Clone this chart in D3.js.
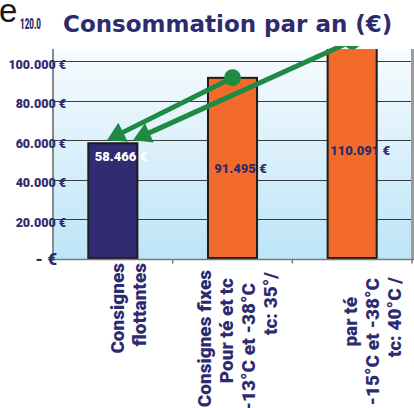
<!DOCTYPE html>
<html>
<head>
<meta charset="utf-8">
<script src="https://cdn.jsdelivr.net/npm/d3@7"></script>
<style>
  body { margin: 0; background: #fff; }
  svg { display: block; }
</style>
</head>
<body>
<svg id="chart" width="414" height="408"></svg>
<script>
// data
var categories = [
  ["Consignes", "flottantes"],
  ["Consignes fixes", "Pour té et tc", "-13°C et -38°C", "tc: 35°/"],
  ["par té", "-15°C et -38°C", "tc: 40°C /"]
];
var values = [58466, 91495, 110091];
var yTicks = [0, 20000, 40000, 60000, 80000, 100000];
var title = "Consommation par an (€)";
var arrows = [{ from: 1, to: 0 }, { from: 2, to: 0 }];

// layout of the rotated category labels (first baseline shift, top of each line)
var labelShift = [11, -21.5, 5];
var labelTop = [[263, 263], [270, 278, 283, 272], [297, 278, 277]];

var navy = "#2d2b6f";
var orange = "#f26b2a";
var green = "#1f8a43";
var boldFont = "Roboto, 'Liberation Sans', Arial, sans-serif";

var svg = d3.select("#chart");

var plot = { left: 53, right: 412, top: 49, bottom: 259 };

var x = d3.scaleBand()
    .domain(d3.range(values.length))
    .range([plot.left, plot.right])
    .paddingInner(0.59)
    .paddingOuter(0.295);

var y = d3.scaleLinear()
    .domain([0, 120000])
    .range([plot.bottom, plot.bottom - 120000 * 0.00198]);

var fr = d3.formatLocale({ decimal: ",", thousands: ".", grouping: [3], currency: ["", "€"] });
var fmt = fr.format(",.0f");

var defs = svg.append("defs");
var grad = defs.append("linearGradient")
    .attr("id", "bg").attr("x1", 0).attr("y1", 0).attr("x2", 0).attr("y2", 1);
grad.append("stop").attr("offset", "0%").attr("stop-color", "#f6fbfe");
grad.append("stop").attr("offset", "100%").attr("stop-color", "#bde5f7");

defs.append("clipPath").attr("id", "plotclip")
  .append("rect")
    .attr("x", plot.left).attr("y", plot.top)
    .attr("width", plot.right - plot.left).attr("height", plot.bottom - plot.top + 2);

svg.append("rect")
    .attr("x", plot.left).attr("y", plot.top)
    .attr("width", plot.right - plot.left).attr("height", plot.bottom - plot.top)
    .attr("fill", "url(#bg)");

// gridlines
svg.append("g")
  .selectAll("line")
  .data(yTicks.filter(d => d > 0))
  .enter().append("line")
    .attr("x1", plot.left).attr("x2", plot.right)
    .attr("y1", d => Math.round(y(d)) + 0.5)
    .attr("y2", d => Math.round(y(d)) + 0.5)
    .attr("stroke", "#3c3c3c")
    .attr("stroke-width", 1);

// right frame strip
svg.append("rect")
    .attr("x", plot.right - 1).attr("y", plot.top)
    .attr("width", 3).attr("height", plot.bottom - plot.top)
    .attr("fill", "#9c9c9c");

// bars
svg.append("g")
    .attr("clip-path", "url(#plotclip)")
  .selectAll("rect")
  .data(values)
  .enter().append("rect")
    .attr("x", (d, i) => x(i))
    .attr("y", d => y(d))
    .attr("width", x.bandwidth())
    .attr("height", d => plot.bottom - 1 - y(d))
    .attr("fill", (d, i) => i === 0 ? "#302b72" : orange)
    .attr("stroke", "#1c1c1c")
    .attr("stroke-width", 2);

// value labels
svg.append("g")
  .selectAll("text")
  .data(values)
  .enter().append("text")
    .attr("x", (d, i) => x(i) + x.bandwidth() / 2 + 8)
    .attr("y", (d, i) => i === 0 ? y(d) + 18 : (y(d) + plot.bottom) / 2 + 4.5)
    .attr("text-anchor", "middle")
    .style("font-family", boldFont)
    .style("font-weight", 900)
    .style("font-size", "13px")
    .attr("fill", (d, i) => i === 0 ? "#ffffff" : navy)
    .text(d => fmt(d) + " €");

// green arrows
var ag = svg.append("g");
arrows.forEach(function (a, k) {
  var x0 = x(a.from) + x.bandwidth() / 2;
  var y0 = y(values[a.from]);
  var tx = x(a.to) + x.bandwidth() * (k === 0 ? 0.38 : 0.91);
  var ty = y(values[a.to]) - 3;
  var dx = tx - x0, dy = ty - y0;
  var len = Math.sqrt(dx * dx + dy * dy);
  var ux = dx / len, uy = dy / len;
  var hl = 18, hw = 10.5;
  var bx = tx - ux * hl, by = ty - uy * hl;
  ag.append("line")
      .attr("x1", x0).attr("y1", y0)
      .attr("x2", bx + ux * 2).attr("y2", by + uy * 2)
      .attr("stroke", green)
      .attr("stroke-width", 5);
  ag.append("path")
      .attr("d", "M" + tx + "," + ty +
        "L" + (bx - uy * hw) + "," + (by + ux * hw) +
        "L" + (bx + uy * hw) + "," + (by - ux * hw) + "Z")
      .attr("fill", green);
  ag.append("circle")
      .attr("cx", x0).attr("cy", y0)
      .attr("r", 8.5)
      .attr("fill", green);
});

// white title band over the top
svg.append("rect")
    .attr("x", 0).attr("y", 0)
    .attr("width", 414).attr("height", 46)
    .attr("fill", "#ffffff");

svg.append("text")
    .attr("x", 63).attr("y", 31.5)
    .style("font-family", "'DejaVu Sans', Verdana, sans-serif")
    .style("font-weight", 700)
    .style("font-size", "23px")
    .attr("fill", navy)
    .text(title);

svg.append("text")
    .attr("x", -1).attr("y", 22)
    .style("font-family", "'Liberation Sans', Arial, sans-serif")
    .style("font-size", "33px")
    .attr("fill", "#1a1a1a")
    .text("e");

svg.append("text")
    .attr("x", 20).attr("y", 28.5)
    .attr("textLength", 21)
    .attr("lengthAdjust", "spacingAndGlyphs")
    .style("font-family", boldFont)
    .style("font-weight", 900)
    .style("font-size", "14px")
    .attr("fill", navy)
    .text("120.0");

// axes lines
svg.append("line")
    .attr("x1", plot.left).attr("x2", plot.left)
    .attr("y1", plot.top).attr("y2", plot.bottom + 1)
    .attr("stroke", "#8a8a8a").attr("stroke-width", 2);

var xaxis = svg.append("g").attr("transform", "translate(0," + (plot.bottom + 0.5) + ")");
xaxis.append("line")
    .attr("x1", plot.left).attr("x2", plot.right + 2)
    .attr("stroke", "#7a7a7a").attr("stroke-width", 1.5);
xaxis.selectAll(".tk")
  .data(d3.range(1, values.length + 1))
  .enter().append("line")
    .attr("class", "tk")
    .attr("x1", i => plot.left + i * x.step())
    .attr("x2", i => plot.left + i * x.step())
    .attr("y1", 0).attr("y2", 4)
    .attr("stroke", "#7a7a7a").attr("stroke-width", 1.5);

// y tick labels
svg.append("g")
  .selectAll("text")
  .data(yTicks)
  .enter().append("text")
    .attr("x", d => d === 0 ? 57 : 66)
    .attr("y", d => d === 0 ? y(d) + 6 : y(d) + 7.5)
    .attr("text-anchor", "end")
    .style("font-family", boldFont)
    .style("font-weight", 900)
    .style("font-size", d => d === 0 ? "17px" : "12.5px")
    .attr("fill", navy)
    .text(d => d === 0 ? "- €" : fmt(d) + " €");

// rotated category labels
var cl = svg.append("g");
categories.forEach(function (lines, i) {
  lines.forEach(function (line, j) {
    var bx = x(i) + x.bandwidth() / 2 + labelShift[i] + j * 22;
    cl.append("text")
        .attr("transform", "translate(" + bx + "," + labelTop[i][j] + ") rotate(-90)")
        .attr("text-anchor", "end")
        .style("font-family", boldFont)
        .style("font-weight", 900)
        .style("font-size", "19px")
        .attr("fill", navy)
        .text(line);
  });
});
</script>
</body>
</html>
